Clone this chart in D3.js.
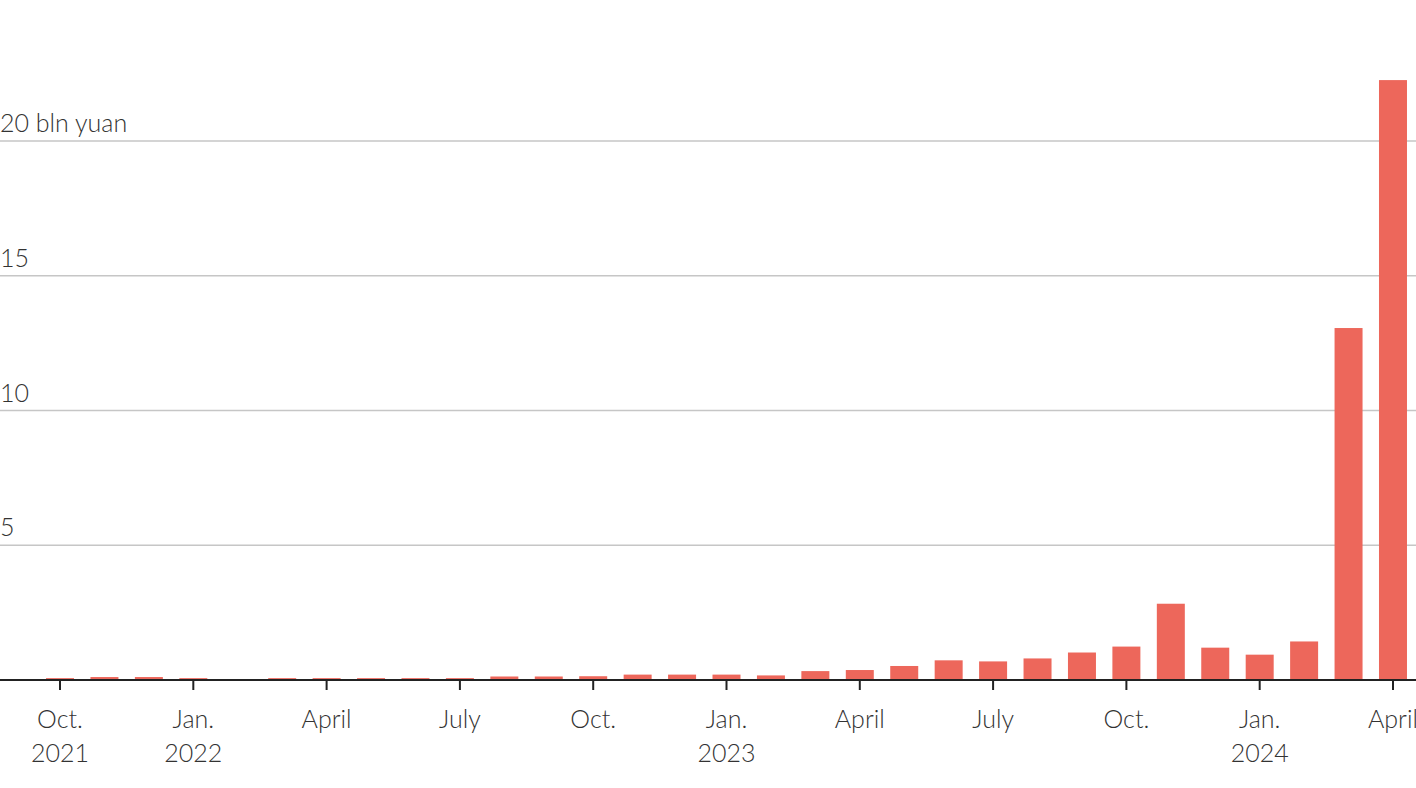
<!DOCTYPE html>
<html>
<head>
<meta charset="utf-8">
<script src="https://cdn.jsdelivr.net/npm/d3@7"></script>
<style>
  html, body { margin: 0; padding: 0; background: #fff; }
  svg text { font-family: "Source Sans Pro", "Lato", sans-serif; font-weight: 300; fill: #333; }
</style>
</head>
<body>
<svg id="chart" width="1416" height="788"></svg>
<script>
const months = ["2021-10","2021-11","2021-12","2022-01","2022-02","2022-03","2022-04","2022-05","2022-06","2022-07","2022-08","2022-09","2022-10","2022-11","2022-12","2023-01","2023-02","2023-03","2023-04","2023-05","2023-06","2023-07","2023-08","2023-09","2023-10","2023-11","2023-12","2024-01","2024-02","2024-03","2024-04"];
const values = [0.07,0.11,0.11,0.07,0,0.07,0.07,0.07,0.07,0.07,0.13,0.13,0.14,0.2,0.2,0.2,0.17,0.33,0.37,0.52,0.73,0.69,0.8,1.02,1.24,2.83,1.2,0.94,1.43,13.06,22.26];
const yTicks = [5, 10, 15, 20];
const yTickLabels = ["5", "10", "15", "20 bln yuan"];
const xTickMonths = ["2021-10","2022-01","2022-04","2022-07","2022-10","2023-01","2023-04","2023-07","2023-10","2024-01","2024-04"];
const xTickLabels = [["Oct.","2021"],["Jan.","2022"],["April"],["July"],["Oct."],["Jan.","2023"],["April"],["July"],["Oct."],["Jan.","2024"],["April"]];

const W = 1416, H = 788;
const svg = d3.select("#chart");

const x = d3.scaleBand().domain(months).range([37.8, 1415.2]).paddingInner(0.37).paddingOuter(0.185);
const y = d3.scaleLinear().domain([0, 20]).range([680, 141]);

// gridlines
const grid = svg.append("g");
grid.selectAll("line").data(yTicks).join("line")
  .attr("x1", 0).attr("x2", W)
  .attr("y1", d => y(d)).attr("y2", d => y(d))
  .attr("stroke", "#c6c6c6").attr("stroke-width", 1.5);
grid.selectAll("text").data(yTicks).join("text")
  .attr("x", 0).attr("y", d => y(d) - 9)
  .attr("font-size", 25)
  .text((d, i) => yTickLabels[i]);

// bars
svg.append("g").selectAll("rect").data(values).join("rect")
  .attr("x", (d, i) => x(months[i]))
  .attr("width", x.bandwidth())
  .attr("y", d => y(d))
  .attr("height", d => y(0) - y(d))
  .attr("fill", "#ed675b");

// x axis
const xAxis = svg.append("g").attr("transform", `translate(0,${y(0)})`);
xAxis.append("line").attr("x1", 0).attr("x2", W).attr("y1", 0).attr("y2", 0)
  .attr("stroke", "#222").attr("stroke-width", 2);
const ticks = xAxis.selectAll("g.tick").data(xTickMonths).join("g")
  .attr("class", "tick")
  .attr("transform", d => `translate(${x(d) + x.bandwidth() / 2},0)`);
ticks.append("line").attr("y1", 0).attr("y2", 10).attr("stroke", "#222").attr("stroke-width", 2);
ticks.each(function(d, i) {
  const g = d3.select(this);
  xTickLabels[i].forEach((t, j) => {
    g.append("text").attr("text-anchor", "middle")
      .attr("y", 48 + j * 34).attr("font-size", 25).text(t);
  });
});
</script>
</body>
</html>
